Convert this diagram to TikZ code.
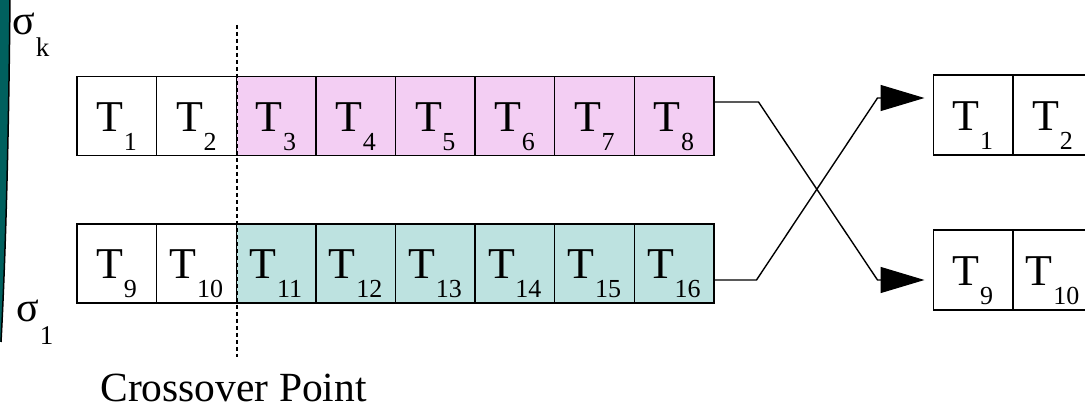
\documentclass[tikz,border=0pt]{standalone}
\usepackage{fontspec}
\setmainfont{Liberation Serif}
\usetikzlibrary{arrows.meta}
\definecolor{pinkc}{RGB}{243,206,243}
\definecolor{cyanc}{RGB}{189,226,224}
\definecolor{tealdark}{RGB}{0,96,94}
\newcommand\Tsub[1]{{\fontsize{44}{44}\selectfont T}\kern0.5pt\raisebox{-19pt}{\fontsize{26}{26}\selectfont #1}}
\newcommand\Sig[2]{{\fontsize{42}{42}\selectfont σ}\kern1pt\raisebox{-#2}{\fontsize{27}{27}\selectfont #1}}
\tikzset{
  cell/.style={draw=black, line width=1.4pt, minimum width=79.6pt, minimum height=79pt,
               inner sep=0pt, text height=40pt, text depth=9pt, fill=white},
  pk/.style={cell, fill=pinkc},
  cy/.style={cell, fill=cyanc},
  conn/.style={line width=1.4pt, -{Triangle[length=44pt,width=26pt]}},
  cpline/.style={line width=1.3pt, dash pattern=on 4pt off 3pt},
  siglab/.style={inner sep=0pt, anchor=base west}
}
\begin{document}
\begin{tikzpicture}[x=1pt,y=-1pt]
\clip (0,0) rectangle (1085,411);
\fill[white] (0,0) rectangle (1085,411);
% left decoration
\fill[tealdark] (0,-5) -- (10,-5) .. controls (9,120) and (6,250) .. (1,342) -- (0,342) -- cycle;
\draw[line width=1.5pt] (10,-5) .. controls (9,120) and (6,250) .. (1,342);
% sigma labels
\node[siglab] (sk) at (12,35) {\Sig{k}{22pt}};
\node[siglab] (s1) at (16,322) {\Sig{1}{23pt}};
% top row
\node[cell] (t1) at (116.8,116) {\Tsub{1}};
\node[cell] (t2) at (196.4,116) {\Tsub{2}};
\node[pk] (t3) at (276.0,116) {\Tsub{3}};
\node[pk] (t4) at (355.6,116) {\Tsub{4}};
\node[pk] (t5) at (435.2,116) {\Tsub{5}};
\node[pk] (t6) at (514.8,116) {\Tsub{6}};
\node[pk] (t7) at (594.4,116) {\Tsub{7}};
\node[pk] (t8) at (674.0,116) {\Tsub{8}};
% bottom row
\node[cell] (b9) at (116.8,263.5) {\Tsub{9}};
\node[cell] (b10) at (196.4,263.5) {\Tsub{10}};
\node[cy] (b11) at (276.0,263.5) {\Tsub{11}};
\node[cy] (b12) at (355.6,263.5) {\Tsub{12}};
\node[cy] (b13) at (435.2,263.5) {\Tsub{13}};
\node[cy] (b14) at (514.8,263.5) {\Tsub{14}};
\node[cy] (b15) at (594.4,263.5) {\Tsub{15}};
\node[cy] (b16) at (674.0,263.5) {\Tsub{16}};
% right offspring
\node[cell, minimum height=80pt] (r1) at (973,115) {\Tsub{1}};
\node[cell, minimum height=80pt] (r2) at (1052.6,115) {\Tsub{2}};
\node[cell, minimum height=80pt] (r9) at (973,270) {\Tsub{9}};
\node[cell, minimum height=80pt] (r10) at (1052.6,270) {\Tsub{10}};
% crossover point
\coordinate (cpT) at (237,25);
\coordinate (cpB) at (237,357);
\draw[cpline] (cpT) -- (cpB);
\node[inner sep=0pt, anchor=base] (cpl) at (233.5,402) {\fontsize{41.5}{41.5}\selectfont Crossover Point};
% connectors
\draw[conn] ([yshift=14pt]t8.east) -- ++(44,0) -- ([xshift=-55pt,yshift=-10pt]r9.west) -- ([xshift=-8pt,yshift=-10pt]r9.west);
\draw[conn] ([yshift=-16.5pt]b16.east) -- ++(42,0) -- ([xshift=-55pt,yshift=17pt]r1.west) -- ([xshift=-8pt,yshift=17pt]r1.west);
\end{tikzpicture}
\end{document}
